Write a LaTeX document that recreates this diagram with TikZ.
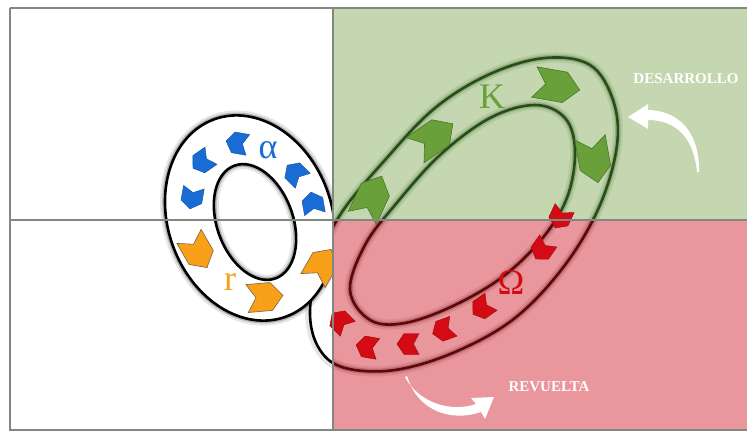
\documentclass[tikz,border=0pt]{standalone}
\usepackage{fontspec}
\setmainfont{Liberation Serif}
\usetikzlibrary{positioning}

\definecolor{kzone}{RGB}{196,215,176}
\definecolor{wzone}{RGB}{233,151,156}
\definecolor{kline}{RGB}{38,78,22}
\definecolor{wline}{RGB}{92,8,10}
\definecolor{kfill}{RGB}{106,160,58}
\definecolor{kedge}{RGB}{72,118,40}
\definecolor{wfill}{RGB}{212,10,20}
\definecolor{wedge}{RGB}{150,10,12}
\definecolor{afill}{RGB}{24,108,212}
\definecolor{aedge}{RGB}{20,80,170}
\definecolor{rfill}{RGB}{248,160,26}
\definecolor{redge}{RGB}{120,100,60}
\definecolor{gridcol}{RGB}{128,136,128}

% front loop (r -> K -> Omega) and back loop (alpha -> r)
\newcommand{\bigring}[1]{\path[#1]
	plot[smooth cycle, tension=.6] coordinates {(310,315) (318,265) (340,215) (385,160) (435,108) (490,74) (545,58) (590,65) (613,100) (617,145) (600,205) (565,265) (515,318) (455,352) (395,370) (345,368) (320,350)}
	plot[smooth cycle, tension=.6] coordinates {(350,290) (365,245) (395,205) (440,155) (490,118) (535,105) (565,118) (575,150) (568,195) (545,235) (505,275) (455,305) (405,323) (370,320)};}
\newcommand{\smallring}[1]{\path[#1]
	(250,218) circle [x radius=105, y radius=82, rotate=-70]
	(255,222) circle [x radius=60, y radius=38, rotate=-70];}

\tikzset{
	chev/.pic={\path[pic actions] (-1,-.7) -- (.35,-.7) -- (1,0) -- (.35,.7) -- (-1,.7) -- (-.5,0) -- cycle;},
	achev/.style={fill=afill, draw=aedge, line width=.4pt, xscale=11, yscale=15},
	rchev/.style={fill=rfill, draw=redge, line width=.6pt, xscale=18, yscale=20},
	kchev/.style={fill=kfill, draw=kedge, line width=.6pt, xscale=23, yscale=22},
	wchev/.style={fill=wfill, draw=wedge, line width=.4pt, xscale=11, yscale=15},
	phase/.style={font=\fontsize{36}{36}\selectfont, inner sep=0pt},
	stage/.style={font=\fontsize{15}{15}\selectfont\bfseries, text=white, inner sep=0pt},
	halo/.style={draw=#1, line width=10pt, draw opacity=.1},
	halo2/.style={draw=#1, line width=5.5pt, draw opacity=.22},
	tube/.style={draw=#1, line width=2.6pt},
}

\begin{document}
\begin{tikzpicture}[x=1pt,y=-1pt]
	\useasboundingbox (0,0) rectangle (747,433);

	% tip of the front loop, white side
	\bigring{halo=black}
	\bigring{fill=white, even odd rule}
	\bigring{tube=black}

	% back loop
	\smallring{halo=black}
	\smallring{halo2=black}
	\smallring{fill=white, even odd rule}
	\smallring{tube=black}

	\pic[rotate=100, achev] at (313,203) {chev};
	\pic[rotate=135, achev] at (295,173) {chev};
	\pic[rotate=170, achev] at (237,143) {chev};
	\pic[rotate=215, achev] at (202,162) {chev};
	\pic[rotate=260, achev] at (192,198) {chev};

	\pic[rotate=-60, rchev] at (198,252) {chev};
	\pic[rotate=5, rchev] at (265,297) {chev};
	\pic[rotate=60, rchev] at (322,265) {chev};

	% zones
	\fill[kzone] (333,8) rectangle (747,220);
	\fill[wzone] (333,220) rectangle (747,430);

	\begin{scope}
		\clip (333,8) rectangle (747,220);
		\bigring{halo=kline}
		\bigring{halo2=kline}
		\bigring{tube=kline}
	\end{scope}
	\begin{scope}
		\clip (333,220) rectangle (747,430);
		\bigring{halo=wline}
		\bigring{halo2=wline}
		\bigring{tube=wline}
	\end{scope}

	\pic[rotate=65, kchev] at (372,197) {chev};
	\pic[rotate=35, kchev] at (434,137) {chev};
	\pic[rotate=-10, kchev] at (557,86) {chev};
	\pic[rotate=-80, kchev] at (594,160) {chev};

	\pic[rotate=-115, wchev] at (560,218) {chev};
	\pic[rotate=-125, wchev] at (542,250) {chev};
	\pic[rotate=-145, wchev] at (482,308) {chev};
	\pic[rotate=-160, wchev] at (443,330) {chev};
	\pic[rotate=180, wchev] at (408,344) {chev};
	\pic[rotate=170, wchev] at (367,347) {chev};
	\pic[rotate=135, wchev] at (340,321) {chev};

	\node[phase, text=afill] (alpha) at (268,150) {α};
	\node[phase, text=rfill] (r) at (230,282) {r};
	\node[phase, text=kfill] (K) at (492,97) {K};
	\node[phase, text=wfill] (Omega) at (511,283) {Ω};

	\node[stage] (desarrollo) at (686,79) {DESARROLLO};
	\node[stage] (revuelta) at (549,387) {REVUELTA};

	% white arrows
	\fill[white] (699,172) .. controls (700,140) and (685,111) .. (648,110) -- (648,104) -- (628,117) -- (648,129) -- (648,120) .. controls (678,120) and (694,140) .. (697,172) -- cycle;
	\fill[white] (407,376) .. controls (418,412) and (452,422) .. (481,412) -- (485,419) -- (494,397) -- (471,398) -- (476,404) .. controls (450,413) and (418,402) .. (405,377) -- cycle;

	% frame
	\draw[gridcol, line width=2pt] (10,8) -- (747,8) (10,8) -- (10,430) -- (747,430) (333,8) -- (333,430) (10,220) -- (747,220);
\end{tikzpicture}
\end{document}
